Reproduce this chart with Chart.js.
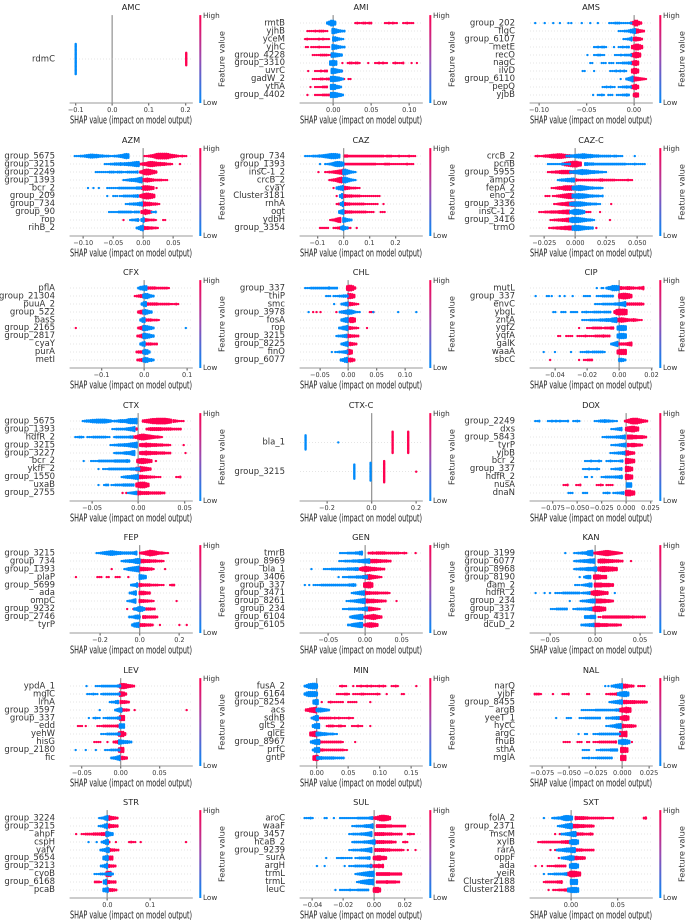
<!DOCTYPE html>
<html>
<head>
<meta charset="utf-8">
<script src="https://cdn.jsdelivr.net/npm/chart.js@4"></script>
<style>
html, body { margin: 0; padding: 0; background: #fff; overflow: hidden; }
#page { position: relative; width: 685px; height: 920px; overflow: hidden; }
canvas { position: absolute; filter: blur(0.3px); }
</style>
</head>
<body>
<div id="page"></div>
<script>
// SHAP values are in thousandths. A row holds single values, or [start, 'counts']
// where each base-36 character is how many samples pile up in that x bin.
const AMC_genes = ['rdmC'];
const AMC_ticks = ['−0.1', '0.0', '0.1', '0.2'];
const AMC_low = [[[-100, 'z']]];
const AMC_high = [[[202, 'f']]];

const AMI_genes = ['rmtB', 'yjhB', 'yceM', 'yjhC', 'group_4228', 'group_3310', 'uvrC', 'gadW_2', 'ythA', 'group_4402'];
const AMI_ticks = ['0.00', '0.05', '0.10'];
const AMI_low = [[[-8, '36996']], [[-1, '8864322']], [[0, '775321']], [[-1, '8764322']], [[-2, '776543']], [[-4, '7887']], [[-2, '887543']], [[-3, '8887642']], [[-3, '888542']], [[-3, '8887542']]];
const AMI_high = [[[29, '121122122'], [68, '1121211'], [92, '112111']], [[-34, '11112122211']], [[-37, '1211111212111']], [[-36, '11'], [-29, '1111211111']], [[-27, '1111222211']], [12, [19, '1221221'], 46, [55, '1121211'], [79, '121112'], 103, 110], [-33, [-24, '1112122'], [9, '11']], [[-27, '1111221222'], [9, '111'], [20, '11']], [-30, [-24, '1111222']], [-34, [-24, '11112222']]];

const AMS_genes = ['group_202', 'flgC', 'group_6107', 'metE', 'recO', 'nagC', 'ilvD', 'group_6110', 'pepQ', 'yjbB'];
const AMS_ticks = ['−0.10', '−0.05', '0.00'];
const AMS_low = [[-104, -94, -85, -78, -69, -66, -55, -46, -38, [-26, '111222111112']], [[-16, '111223568']], [[-11, '11236']], [[-42, '1121221'], -21, [-16, '112122']], [-49, [-42, '112211'], [-20, '111212223']], [[-46, '11'], [-34, '111'], [-26, '111'], [-18, '11122233']], [[-54, '11'], -42, [-25, '111212121']], [-14, [-8, '2469']], [[-33, '1121211'], [-16, '1122323']], [-43, [-38, '1121'], [-27, '111'], [-18, '1112232']]];
const AMS_high = [[[-3, '359953']], [[0, '676432']], [[0, '56542']], [[-2, '579975']], [[-2, '57986']], [[-2, '5786']], [[-2, '6886']], [[0, '7654321']], [[-2, '5785']], [[0, '576']]];

const AZM_genes = ['group_5675', 'group_3215', 'group_2249', 'group_1393', 'bcr_2', 'group_209', 'group_734', 'group_90', 'rop', 'rihB_2'];
const AZM_ticks = ['−0.10', '−0.05', '0.00', '0.05'];
const AZM_low = [[[-114, '1112234566554332221122345787']], [[-64, '111223334344556788']], [[-79, '1111111222122211222223']], [[-33, '1123445689']], [-92, -83, -74, [-60, '111111222222222332']], [-60, [-50, '111'], [-39, '1122222334']], [[-29, '112233456']], [[-57, '1111122222221222'], [14, '112']], [[-22, '12234'], [-3, '48']], [[-11, '2479']]];
const AZM_high = [[[2, '1123468999998654321211']], [[-5, '23457887655443221'], 61], [[-5, '358998653']], [[-28, '1'], [-22, '11'], [0, '4565432222111']], [[-3, '4777654'], 22], [[-5, '46899875']], [[0, '765543321']], [[-3, '468653']], [-33, -8, [1, '5432221'], [33, '11']], [[1, '54433221']]];

const CAZ_genes = ['group_734', 'group_1393', 'insC-1_2', 'crcB_2', 'cyaY', 'Cluster3181', 'rnhA', 'ogt', 'ydbH', 'group_3354'];
const CAZ_ticks = ['−0.1', '0.0', '0.1', '0.2'];
const CAZ_low = [[[-147, '111122233456788876']], [-90, [-70, '1123578876']], [[0, '8975321']], [[0, '8975321']], [[-26, '3568']], [[-13, '48']], [[-10, '48']], [[-16, '468']], [[0, '86432']], [[-8, '58'], [0, '643']]];
const CAZ_high = [[[6, '332222222222222222221222111211112111']], [[6, '22222222222222221111222111111112111']], [-96, [-70, '1122345679']], [[-54, '1234689']], [-38, [-8, '5'], [0, '654322211']], [-26, [0, '5433322221111111111']], [[-26, '1234'], [0, '543322222221111111'], 154], [[0, '5433322222221111'], [143, '111']], [[-51, '123578']], [[-90, '11111'], [-38, '11234'], [19, '11'], 51]];

const CAZC_genes = ['crcB_2', 'pcnB', 'group_5955', 'ampG', 'fepA_2', 'eno_2', 'group_3336', 'insC-1_2', 'group_3416', 'trmO'];
const CAZC_ticks = ['−0.025', '0.000', '0.025', '0.050'];
const CAZC_low = [[[-7, '22334566776554333222222122111'], 48], [[-22, '111111122112'], [8, '4433322222222222222221111211111']], [[-4, '3345678776544332211']], [[-14, '123345566']], [[-2, '5678876543322221']], [[-2, '5678776543322212']], [[-4, '4567776543322211']], [[-4, '46888764']], [[-4, '6888876543321']], [[-2, '78887654433']]];
const CAZC_high = [[[-32, '1211233456677765443'], [5, '222']], [[-10, '3567899976']], [[-22, '112233455555444332211']], [[1, '32222222222233222222111111211']], [[-19, '112344677776']], [[-24, '111'], [-18, '11234567887654']], [[-17, '11234456677665'], 29], [[-29, '1112223333445566'], [9, '111'], 20], [[-20, '112233445668'], 28], [[-21, '112233445566'], 17]];

const CFX_genes = ['pflA', 'group_21304', 'puuA_2', 'group_522', 'basS', 'group_2165', 'group_2817', 'cyaY', 'purA', 'metI'];
const CFX_ticks = ['−0.1', '0.0', '0.1'];
const CFX_low = [[[-14, '25687']], [[-2, '688532']], [[-6, '378']], [[-2, '68643']], [[-9, '378']], [[-2, '887542'], 97], [[-2, '887643']], [[-9, '368']], [[-2, '6873']], [[-2, '687442']]];
const CFX_high = [[[1, '5433332222221']], [[-22, '12345']], [[1, '54333332222221'], [65, '1121']], [[-14, '356']], [[1, '43332221']], [-160, [-14, '2467']], [[-16, '23568']], [[1, '4333222']], [[-18, '23345']], [[-16, '23456']]];

const CHL_genes = ['group_337', 'thiP', 'smc', 'group_3978', 'fosA', 'rop', 'group_3215', 'group_8225', 'finO', 'group_6077'];
const CHL_ticks = ['−0.05', '0.00', '0.05', '0.10'];
const CHL_low = [[[-76, '11122222222232222']], [[-39, '111'], [-26, '11122333']], [-25, [-12, '2356']], [-70, [-15, '23457764211'], 44, 88, 120], [[-12, '3578']], [[-16, '23568']], [[-21, '122345']], [[-12, '2468']], [-29, [-23, '1122345']], [[-13, '3478']]];
const CHL_high = [[[-2, '79973']], [[0, '8875']], [[0, '654321']], [-62, -56, -49, -21, [-12, '2356'], 38, [41, '11']], [[-6, '256886']], [[0, '543221'], 33], [[0, '543322']], [[0, '55432']], [[-1, '786']], [[0, '5653']]];

const CIP_genes = ['mutL', 'group_337', 'envC', 'ybgL', 'zntA', 'ygfZ', 'yqfA', 'galK', 'waaA', 'sbcC'];
const CIP_ticks = ['−0.04', '−0.02', '0.00', '0.02'];
const CIP_low = [[-14, -11, -10, [-8, '2458887']], [-52, [-45, '11'], -42, -37, -34, -29, [-22, '1111'], [-14, '111222222']], [[-15, '1111222222334568']], [[-41, '11'], [-36, '111'], [-30, '1111'], [-23, '112111222212222']], [[-23, '111122222333444678']], [[-1, '68887']], [[-1, '68887']], [[-5, '2468']], [-47, -40, -30, [-24, '1112212222221']], [[0, '5542']]];
const CIP_high = [[[0, '5433443322335']], [[0, '7899875']], [[0, '4443333333332']], [[-3, '4899998']], [[-1, '5676543343211']], [-25, [-20, '11122222122233']], [[-38, '11'], [-33, '1111'], [-26, '11112111122223222']], [[0, '3333456']], [[-1, '68888']], [-43, -25, [-22, '11222']]];

const CTX_genes = ['group_5675', 'group_1393', 'hdfR_2', 'group_3215', 'group_3227', 'bcr_2', 'ykfF_2', 'group_1550', 'uxaB', 'group_2755'];
const CTX_ticks = ['−0.05', '0.00', '0.05'];
const CTX_low = [[[-60, '123345566666543'], [-28, '1223444578889']], [[-28, '112222234568']], [[-68, '11221'], [-55, '111222222211'], [-26, '1222222233']], [[-30, '11223334456789']], [[-26, '12222344578']], [-59, [-51, '11112222222233333343']], [-43, [-38, '1112222222222233344']], [[-18, '123445678']], [-43, [-37, '122'], [-29, '112222333333']], [[-11, '12345']]];
const CTX_high = [[[5, '345678899999876'], [38, '432111']], [[-4, '23'], [9, '234444443333322222']], [[-7, '2346899876543321']], [[2, '4556554443332221'], 49], [-13, [2, '4556554443333222'], 51], [[-1, '57887654'], 19], [[-2, '55876543']], [[0, '655443322111'], [41, '112']], [[-2, '6899975']], [-17, -13, [0, '65444433333322']]];

const CTXC_genes = ['bla_1', 'group_3215'];
const CTXC_ticks = ['−0.2', '0.0', '0.2'];
const CTXC_low = [[[-296, 'h'], -149], [[-77, 'h'], [-4, 'l']]];
const CTXC_high = [[[95, 'p'], [165, 'p']], [[57, 'p'], 201]];

const DOX_genes = ['group_2249', 'dxs', 'group_5843', 'tyrP', 'yjbB', 'bcr_2', 'group_337', 'hdfR_2', 'nusA', 'dnaN'];
const DOX_ticks = ['−0.075', '−0.050', '−0.025', '0.000', '0.025'];
const DOX_low = [[[-93, '112'], [-80, '11212121112'], [-54, '1121'], [-32, '112334332211']], [[-15, '112345']], [[-24, '112222233456']], [[-15, '11223456']], [[-16, '11223345']], [[-42, '111211121'], [-20, '11211'], [-10, '1123']], [[-44, '111211121'], [-15, '112234']], [[-42, '11'], -35, [-25, '11222223345']], [[1, '777']], [[-59, '111'], [-44, '111'], [-23, '1121'], [-13, '112234']]];
const DOX_high = [[[-1, '246899976432']], [-7, [0, '5789976']], [-13, [2, '6665544432']], [[2, '54554332']], [[0, '77543']], [[0, '88765']], [[0, '8875']], [[0, '8876']], [[-64, '112'], [-51, '112'], [-30, '1121'], [-20, '1111']], [[0, '89976']]];

const FEP_genes = ['group_3215', 'group_734', 'group_1393', 'plaP', 'group_5699', 'ada', 'ompC', 'group_9232', 'group_2746', 'tyrP'];
const FEP_ticks = ['−0.2', '0.0', '0.2'];
const FEP_low = [[[-217, '112345677654433333346']], [[-91, '1233445788']], [[-77, '12456789']], [[0, '8765']], [[-43, '2347']], [[-50, '2357']], [[-62, '12357']], [[-27, '347874']], [[-52, '223566']], [[-37, '3678']]];
const FEP_high = [[[2, '234679876433211']], [[-48, '22'], [0, '5554443332221']], [-141, [0, '65544331'], 128], [-321, [-213, '111'], [-166, '11'], [-121, '111'], -57], [[0, '5433332222111'], [153, '122']], [[0, '555433']], [[0, '54433221'], 186], [-63, [-32, '11'], [15, '4333322']], [[-10, '22'], [18, '44333332']], [[5, '4443332'], 102, 200, 237]];

const GEN_genes = ['tmrB', 'group_8969', 'bla_1', 'group_3406', 'group_337', 'group_3471', 'group_8261', 'group_234', 'group_6104', 'group_6105'];
const GEN_ticks = ['−0.05', '0.00', '0.05'];
const GEN_low = [[[-34, '111122223356']], [[-35, '1112222333445667']], [-73, [-56, '111122222222333344']], [-36, [-30, '1112222333445']], [-82, -76, [-70, '1111222222222222223343']], [[-18, '1234567']], [[-25, '1122345678']], [[-30, '1112222233456']], [[-20, '2456788']], [[-23, '22456788']]];
const GEN_high = [[[5, '22323333322222221121'], 69], [[5, '555554433322']], [[-9, '24678765543322']], [[-2, '4678654321']], [[-1, '78997']], [[1, '5443333222221']], [[1, '66555443322'], 43], [[-7, '22'], [1, '66654321']], [[-2, '2456787543']], [[-2, '24677654']]];

const KAN_genes = ['group_3199', 'group_6077', 'group_8968', 'group_8190', 'dam_2', 'hdfR_2', 'group_234', 'group_337', 'group_4317', 'dcuD_2'];
const KAN_ticks = ['−0.05', '0.00', '0.05'];
const KAN_low = [[-33, [-23, '1122334789']], [[-23, '12233445667']], [[-23, '122333455567']], [-17, [-12, '2455']], [[-22, '111'], [-15, '123466']], [-66, -56, -50, [-44, '1111222222222'], [-15, '12234'], 22], [-28, [-16, '12234566']], [[-49, '111222222'], [-24, '1122223345']], [[-11, '444555']], [[-15, '2233445']]];
const KAN_high = [[[-1, '234567887654321']], [[4, '5666554433322'], 40], [[2, '56788776655']], [[-1, '6776555']], [[0, '6666555544']], [[-6, '2578876544']], [[0, '6666554432']], [[-2, '6888765']], [[4, '11'], [9, '3333333333333323222222']], [[0, '55544443333322']]];

const LEV_genes = ['ypdA_1', 'mglC', 'lrhA', 'group_3597', 'group_337', 'edd', 'yehW', 'hisG', 'group_2180', 'fic'];
const LEV_ticks = ['−0.05', '0.00', '0.05'];
const LEV_low = [[-44, [-32, '1112222222233']], [[-43, '111211'], [-25, '1222222223']], [[-14, '12245']], [-27, [-7, '2467']], [-41, [-35, '1211'], [-22, '112222233']], [[-1, '777']], [[-25, '1112222233']], [[-2, '7654432']], [-58, -45, -32, [-20, '11122223']], [[-12, '23468']]];
const LEV_high = [[[-1, '68875432']], [[-1, '7763']], [[0, '54432']], [[0, '44332'], 18, 85], [[-1, '788']], [[-55, '111'], -45, [-30, '1112222222334']], [[-2, '7884']], [[-34, '1111'], -17, [-9, '2344']], [[-2, '788']], [[0, '5543']]];

const MIN_genes = ['fusA_2', 'group_6164', 'group_8254', 'acs', 'sdhB', 'gltS_2', 'glcE', 'group_8967', 'prfC', 'gntP'];
const MIN_ticks = ['0.00', '0.05', '0.10', '0.15'];
const MIN_low = [[[-19, '2478997']], [[-19, '3688886']], [[-5, '688']], [[0, '5665432']], [[-8, '2588']], [[-6, '4788']], [[0, '66544322211']], [[-9, '35788']], [[-6, '2788']], [[1, '44433333322222']]];
const MIN_high = [[[37, '1211'], 58, [64, '112112121112121'], [119, '1121'], 158], [[32, '1111221'], [58, '11112211111121'], 111, [135, '11']], [8, [19, '12111111'], [50, '11111'], 85], [[-17, '346789']], [[3, '222222212121111211']], [[16, '1222112211'], [56, '111211'], 85], [[-10, '6789']], [[3, '3322222222221'], 61], [[3, '333222222222211']], [[-5, '788']]];

const NAL_genes = ['narQ', 'yjbF', 'group_8455', 'argB', 'yeeT_1', 'hycC', 'argC', 'fhuB', 'sthA', 'mglA'];
const NAL_ticks = ['−0.075', '−0.050', '−0.025', '0.000', '0.025'];
const NAL_low = [[-16, -13, [-10, '235678']], [[-4, '467886']], [[-12, '1234567']], [[-38, '1111111222222222233']], [-62, [-52, '111'], [-40, '11122222222'], [-15, '2223344']], [[-15, '11234678']], [-41, [-35, '11'], [-27, '11122222222222']], [[-3, '678875']], [[-37, '1111'], [-24, '11222223333']], [[-37, '1112'], [-29, '11122222222']]];
const NAL_high = [[[-1, '5665332'], [15, '1111']], [[-82, '2221'], -65, [-56, '1112'], [-33, '11'], [-15, '112223']], [[0, '5554444333332']], [[-2, '577987']], [[-2, '46886']], [-4, [-1, '55444432']], [[-2, '8889']], [[-55, '1111'], [-42, '111'], [-33, '11'], [-27, '111222222223'], 9], [[-1, '8887']], [[-1, '888']]];

const STR_genes = ['group_3224', 'group_3215', 'ahpF', 'cspH', 'yafV', 'group_5654', 'group_3213', 'cyoB', 'group_6168', 'pcaB'];
const STR_ticks = ['0.0', '0.1'];
const STR_low = [[[-19, '12368']], [[-20, '12368']], [[-2, '8754']], [-44, -25, [-13, '2478']], [[-16, '23478']], [[-9, '578']], [[-15, '2358']], [[-30, '111222345'], [8, '22']], [[-8, '68']], [[-9, '568']]];
const STR_high = [[[0, '675432']], [[0, '664433']], [-73, [-60, '1122223333445']], [[0, '22'], 20, [51, '1211'], 78, 184], [[2, '543322']], [[2, '666']], [[0, '54332']], [[-2, '788']], [[-29, '2221'], [0, '54333']], [[2, '54432']]];

const SUL_genes = ['aroC', 'waaF', 'group_3457', 'hcaB_2', 'group_9239', 'surA', 'argH', 'trmL', 'trmL', 'leuC'];
const SUL_ticks = ['−0.04', '−0.02', '0.00', '0.02'];
const SUL_low = [[[-45, '11121'], [-32, '11'], -26, [-22, '11111111122222234']], [[-14, '11222234457']], [[-16, '112222334568']], [[-14, '122222334568']], [[-16, '112222334568']], [-31, [-24, '1111'], [-21, '111111'], [-12, '11222234']], [-37, -32, -19, [-16, '111222222334']], [[-12, '1234567889']], [[-11, '124567889']], [-25, [-22, '111112111222222']]];
const SUL_high = [[[0, '346899875']], [[2, '444443332222222']], [[1, '44444333322222'], [22, '1211']], [[1, '44444333322'], [19, '121']], [[1, '444443332222221'], 22, 27], [[0, '5677554']], [[-2, '5344545']], [[2, '4444444333333']], [-10, [2, '333334333322']], [[0, '7886']]];

const SXT_genes = ['folA_2', 'group_2371', 'mscM', 'xylB', 'rarA', 'oppF', 'ada', 'yeiR', 'Cluster2188', 'Cluster2188'];
const SXT_ticks = ['0.00', '0.05'];
const SXT_low = [[-29, [-20, '12233578876']], [[-14, '12346788']], [[-10, '22345788']], [[-1, '58886']], [[-15, '2334566788']], [[-10, '2345786']], [[-1, '68886']], [-29, [-24, '1112222234']], [[0, '8888']], [[-3, '678887']]];
const SXT_high = [[[5, '54444332222222211112'], [78, '23']], [[1, '555544433332']], [-17, -12, [2, '43433322232']], [[-35, '11222222222233445']], [-22, -17, [3, '44333222222']], [-13, [2, '5554443']], [-38, -31, [-25, '1111222222']], [[-3, '5899876']], [[-29, '1222222334'], 1], [-24, [-19, '111222333']]];

// name, genes, ticks, low, high, x range in thousandths, bin width
const panels = [
  ['AMC', AMC_genes, AMC_ticks, AMC_low, AMC_high, -115.6, 217.8, 5.5],
  ['AMI', AMI_genes, AMI_ticks, AMI_low, AMI_high, -43.8, 116.7, 2.6],
  ['AMS', AMS_genes, AMS_ticks, AMS_low, AMS_high, -109.5, 19, 2.1],
  ['AZM', AZM_genes, AZM_ticks, AZM_low, AZM_high, -122, 81, 3.3],
  ['CAZ', CAZ_genes, CAZ_ticks, CAZ_low, CAZ_high, -167, 302, 7.7],
  ['CAZ-C', CAZC_genes, CAZC_ticks, CAZC_low, CAZC_high, -36.5, 61.9, 1.6],
  ['CFX', CFX_genes, CFX_ticks, CFX_low, CFX_high, -173.6, 111.4, 4.7],
  ['CHL', CHL_genes, CHL_ticks, CHL_low, CHL_high, -85.2, 130, 3.5],
  ['CIP', CIP_genes, CIP_ticks, CIP_low, CIP_high, -55.5, 20.3, 1.24],
  ['CTX', CTX_genes, CTX_ticks, CTX_low, CTX_high, -73.8, 58, 2.16],
  ['CTX-C', CTXC_genes, CTXC_ticks, CTXC_low, CTXC_high, -321, 227, 9],
  ['DOX', DOX_genes, DOX_ticks, DOX_low, DOX_high, -98.4, 26.6, 2.05],
  ['FEP', FEP_genes, FEP_ticks, FEP_low, FEP_high, -351, 263.5, 10],
  ['GEN', GEN_genes, GEN_ticks, GEN_low, GEN_high, -88.6, 77.7, 2.7],
  ['KAN', KAN_genes, KAN_ticks, KAN_low, KAN_high, -72.2, 63.3, 2.2],
  ['LEV', LEV_genes, LEV_ticks, LEV_low, LEV_high, -65.3, 91.9, 2.6],
  ['MIN', MIN_genes, MIN_ticks, MIN_low, MIN_high, -26.5, 167, 3.2],
  ['NAL', NAL_genes, NAL_ticks, NAL_low, NAL_high, -86.5, 27.8, 1.9],
  ['STR', STR_genes, STR_ticks, STR_low, STR_high, -87.4, 198, 4.7],
  ['SUL', SUL_genes, SUL_ticks, SUL_low, SUL_high, -48, 31.2, 1.3],
  ['SXT', SXT_genes, SXT_ticks, SXT_low, SXT_high, -43.9, 86.7, 2.1]
];

const plotTops = [9, 142, 274, 407, 539, 672, 804];
const BLUE = '#008bfb';
const RED = '#ff0051';
const FONT = '"DejaVu Sans"';

// one row of samples -> points, piled up vertically like a beeswarm
function swarm(rows, step, nGenes) {
  const gap = nGenes < 10 ? 0.95 : 0.62;
  const dy = gap / (94 / (nGenes + 1));
  const pts = [];
  const pile = (v, count, row) => {
    for (let j = 0; j < count; j++) {
      pts.push({ x: v / 1000, y: nGenes - 1 - row + (j - (count - 1) / 2) * dy });
    }
  };
  rows.forEach((row, i) => {
    row.forEach(item => {
      if (typeof item === 'number') {
        pile(item, 1, i);
      } else {
        [...item[1]].forEach((c, k) => pile(item[0] + k * step, parseInt(c, 36), i));
      }
    });
  });
  return pts;
}

// colour bar and its labels, right of the plot
const colorBar = {
  id: 'colorBar',
  afterDraw(chart) {
    const { ctx, chartArea: a } = chart;
    const g = ctx.createLinearGradient(0, a.top, 0, a.bottom);
    g.addColorStop(0, RED);
    g.addColorStop(0.5, '#9a4bb0');
    g.addColorStop(1, BLUE);
    ctx.save();
    ctx.fillStyle = g;
    ctx.fillRect(a.right + 7.3, a.top, 2, a.bottom - a.top);
    ctx.fillStyle = '#333';
    ctx.font = '7.3px ' + FONT;
    ctx.textBaseline = 'middle';
    ctx.fillText('High', a.right + 11, a.top + 1);
    ctx.fillText('Low', a.right + 11, a.bottom);
    ctx.translate(a.right + 30.5, (a.top + a.bottom) / 2);
    ctx.rotate(-Math.PI / 2);
    ctx.textAlign = 'center';
    ctx.font = '8.2px ' + FONT;
    ctx.fillText('Feature value', 0, 0);
    ctx.restore();
  }
};

panels.forEach((p, idx) => {
  const [name, genes, ticks, low, high, xMin, xMax, step] = p;
  const n = genes.length;
  const canvas = document.createElement('canvas');
  canvas.style.left = (idx % 3) * 230 + 'px';
  canvas.style.top = plotTops[Math.floor(idx / 3)] - 14 + 'px';
  document.getElementById('page').appendChild(canvas);
  canvas.width = 230;
  canvas.height = 137;

  new Chart(canvas, {
    type: 'scatter',
    plugins: [colorBar],
    data: {
      datasets: [
        { label: 'Low', data: swarm(low, step, n), backgroundColor: BLUE, pointRadius: 1.2, pointBorderWidth: 0 },
        { label: 'High', data: swarm(high, step, n), backgroundColor: RED, pointRadius: 1.2, pointBorderWidth: 0 }
      ]
    },
    options: {
      responsive: false,
      animation: false,
      devicePixelRatio: 2,
      events: [],
      layout: { padding: { right: 38, bottom: 5 } },
      plugins: {
        legend: { display: false },
        tooltip: { enabled: false },
        title: {
          display: true,
          text: name,
          fullSize: false,
          color: '#222',
          font: { family: FONT, size: 8.2, weight: 'normal', lineHeight: 1.13 },
          padding: { top: 2, bottom: 2.76 }
        }
      },
      scales: {
        x: {
          type: 'linear',
          min: xMin / 1000,
          max: xMax / 1000,
          afterBuildTicks: s => { s.ticks = ticks.map(t => ({ value: Number(t.replace('−', '-')) })); },
          afterFit: s => { s.height = 24; },
          border: { color: '#777', width: 0.8 },
          grid: {
            color: c => (c.tick && c.tick.value === 0 ? '#999' : 'transparent'),
            lineWidth: 1.3,
            tickColor: '#777',
            tickLength: 2.5
          },
          ticks: {
            autoSkip: false,
            maxRotation: 0,
            padding: 1,
            color: '#333',
            font: { family: FONT, size: 6.5 },
            callback: (v, i) => ticks[i]
          },
          title: {
            display: true,
            text: 'SHAP value (impact on model output)',
            color: '#222',
            padding: 0,
            font: { family: FONT, size: 10.3 }
          }
        },
        y: {
          type: 'linear',
          min: -1,
          max: n,
          afterBuildTicks: s => { s.ticks = genes.map((g, i) => ({ value: i })); },
          afterFit: s => { s.width = 70; },
          border: { display: false, dash: [1, 2] },
          grid: { color: '#ccc', lineWidth: 0.6, drawTicks: false },
          ticks: {
            autoSkip: false,
            padding: 15,
            color: '#333',
            font: { family: FONT, size: 8.5 },
            callback: v => genes[n - 1 - v]
          }
        }
      }
    }
  });
});
</script>
</body>
</html>
